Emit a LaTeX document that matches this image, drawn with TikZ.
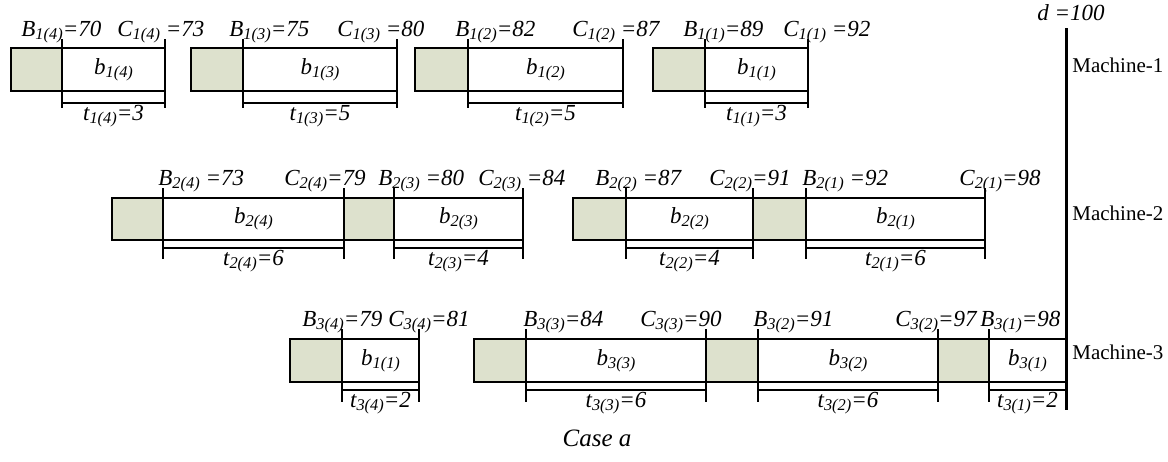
\documentclass[tikz,border=0pt]{standalone}
\usepackage{fontspec}
\setmainfont{Liberation Serif}
\usetikzlibrary{fit}
\definecolor{setupfill}{RGB}{221,225,205}
\newcommand{\lsub}[1]{\raisebox{-0.3ex}{\fontsize{8.2}{9}\selectfont #1}}
\newcommand{\job}[7]{%
  \node[setupbox, fit={(#2,\yt)(#3,\yb)}] (#1s) {};
  \node[procbox, fit={(#3,\yt)(#4,\yb)}] (#1p) {};
  \node[itl] (#1i) at (#1p.center) {#6};
  \draw[tickline] (#3,\ytt) -- (#3,\ytb);
  \draw[tickline] (#4,\ytt) -- (#4,\ytb);
  \draw[brkline] (#3,\ybr) -- (#4,\ybr);
  \node[itl] (#1t) at ({(#3+#4)/2},{\ybr+13}) {#7};
}
\tikzset{
  setupbox/.style={draw=black, line width=1.3pt, fill=setupfill, inner sep=0pt},
  procbox/.style={draw=black, line width=1.3pt, fill=white, inner sep=0pt},
  tickline/.style={line width=0.9pt},
  brkline/.style={line width=1.1pt},
  itl/.style={font=\fontsize{11.5}{13}\selectfont\itshape, inner sep=0pt},
  top/.style={itl, anchor=base west},
  mach/.style={font=\fontsize{10.5}{12}\selectfont, anchor=west, inner sep=0pt},
  dline/.style={line width=1.5pt}
}
\begin{document}
\begin{tikzpicture}[x=0.5pt,y=-0.5pt]
\useasboundingbox (0,0) rectangle (1168,461);
% Row 1
\def\yt{48}\def\yb{91}\def\ytt{39}\def\ytb{108}\def\ybr{103}
\job{a4}{11}{62}{165}{}{b\lsub{1(4)}}{t\lsub{1(4)}=3}
\job{a3}{191}{243}{397}{}{b\lsub{1(3)}}{t\lsub{1(3)}=5}
\job{a2}{415}{468}{623}{}{b\lsub{1(2)}}{t\lsub{1(2)}=5}
\job{a1}{653}{705}{808}{}{b\lsub{1(1)}}{t\lsub{1(1)}=3}
\node[top] (la1) at (21,36) {B\lsub{1(4)}=70};
\node[top] (la2) at (117,36) {C\lsub{1(4)} =73};
\node[top] (la3) at (229,36) {B\lsub{1(3)}=75};
\node[top] (la4) at (337,36) {C\lsub{1(3)} =80};
\node[top] (la5) at (455,36) {B\lsub{1(2)}=82};
\node[top] (la6) at (572,36) {C\lsub{1(2)} =87};
\node[top] (la7) at (683,36) {B\lsub{1(1)}=89};
\node[top] (la8) at (783,36) {C\lsub{1(1)} =92};
% Row 2
\def\yt{198}\def\yb{240}\def\ytt{188}\def\ytb{259}\def\ybr{248}
\job{b4}{112}{163}{344}{}{b\lsub{2(4)}}{t\lsub{2(4)}=6}
\job{b3}{344}{394}{523}{}{b\lsub{2(3)}}{t\lsub{2(3)}=4}
\job{b2}{573}{626}{753}{}{b\lsub{2(2)}}{t\lsub{2(2)}=4}
\job{b1}{753}{806}{985}{}{b\lsub{2(1)}}{t\lsub{2(1)}=6}
\node[top] (lb1) at (158,185) {B\lsub{2(4)} =73};
\node[top] (lb2) at (284,185) {C\lsub{2(4)}=79};
\node[top] (lb3) at (378,185) {B\lsub{2(3)} =80};
\node[top] (lb4) at (478,185) {C\lsub{2(3)} =84};
\node[top] (lb5) at (595,185) {B\lsub{2(2)} =87};
\node[top] (lb6) at (709,185) {C\lsub{2(2)}=91};
\node[top] (lb7) at (802,185) {B\lsub{2(1)} =92};
\node[top] (lb8) at (959,185) {C\lsub{2(1)}=98};
% Row 3
\def\yt{339}\def\yb{382}\def\ytt{329}\def\ytb{402}\def\ybr{390}
\job{c4}{290}{342}{419}{}{b\lsub{1(1)}}{t\lsub{3(4)}=2}
\job{c3}{474}{526}{706}{}{b\lsub{3(3)}}{t\lsub{3(3)}=6}
\job{c2}{706}{758}{938}{}{b\lsub{3(2)}}{t\lsub{3(2)}=6}
\job{c1}{938}{989}{1066}{}{b\lsub{3(1)}}{t\lsub{3(1)}=2}
\node[top] (lc1) at (302,326) {B\lsub{3(4)}=79};
\node[top] (lc2) at (388,326) {C\lsub{3(4)}=81};
\node[top] (lc3) at (523,326) {B\lsub{3(3)}=84};
\node[top] (lc4) at (640,326) {C\lsub{3(3)}=90};
\node[top] (lc5) at (753,326) {B\lsub{3(2)}=91};
\node[top] (lc6) at (895,326) {C\lsub{3(2)}=97};
\node[top] (lc7) at (980,326) {B\lsub{3(1)}=98};
% due date line
\coordinate (dtop) at (1066,28);
\coordinate (dbot) at (1066,410);
\draw[dline] (dtop) -- (dbot);
\node[top] (dlab) at (1037,20) {d =100};
\node[mach] (m1) at (1072,65) {Machine-1};
\node[mach] (m2) at (1072,213) {Machine-2};
\node[mach] (m3) at (1072,352) {Machine-3};
\node[font=\fontsize{12.5}{14}\selectfont\itshape, inner sep=0pt] (case) at (597,438) {Case a};
\end{tikzpicture}
\end{document}
